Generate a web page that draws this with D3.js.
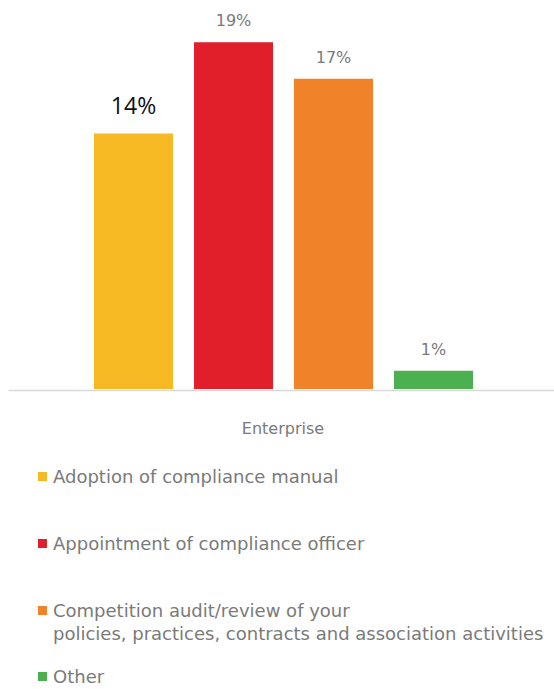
<!DOCTYPE html>
<html>
<head>
<meta charset="utf-8">
<script src="https://cdn.jsdelivr.net/npm/d3@7"></script>
<style>
  html, body { margin: 0; padding: 0; background: #fff; }
  svg { display: block; }
</style>
</head>
<body>
<svg id="chart" width="554" height="689"></svg>
<script>
// ---- data ----
const categories = ["Enterprise"];
const seriesNames = [
  "Adoption of compliance manual",
  "Appointment of compliance officer",
  "Competition audit/review of your policies, practices, contracts and association activities",
  "Other"
];
const seriesValues = [14, 19, 17, 1];
const valueLabels = ["14%", "19%", "17%", "1%"];
const legendLines = [
  ["Adoption of compliance manual"],
  ["Appointment of compliance officer"],
  ["Competition audit/review of your", "policies, practices, contracts and association activities"],
  ["Other"]
];
const colors = ["#F6B924", "#E11F2B", "#F0832A", "#4CB050"];

// ---- layout ----
const svg = d3.select("#chart");
const plot = { left: 8, right: 558, top: 24, bottom: 389 };
const textGrey = "#7a7a7a";
const font = "'Century Gothic', 'DejaVu Sans', sans-serif";

const x0 = d3.scaleBand().domain(categories).range([plot.left, plot.right]);
const y = d3.scaleLinear().domain([0, 20]).range([plot.bottom, plot.top]);

const g = svg.append("g");

categories.forEach(cat => {
  const bx = x0(cat), bw = x0.bandwidth();
  const x1 = d3.scaleBand().domain(d3.range(seriesValues.length))
    .range([bx + bw * 0.1373, bx + bw * 0.8646])
    .paddingInner(0.21).paddingOuter(0.105);

  g.selectAll("rect.bar").data(seriesValues).enter().append("rect")
    .attr("class", "bar")
    .attr("x", (d, i) => x1(i))
    .attr("width", x1.bandwidth())
    .attr("y", d => y(d))
    .attr("height", d => y(0) - y(d))
    .attr("fill", (d, i) => colors[i]);

  g.selectAll("text.val").data(seriesValues).enter().append("text")
    .attr("class", "val")
    .attr("x", (d, i) => x1(i) + x1.bandwidth() / 2)
    .attr("y", (d, i) => y(d) - (i === 0 ? 20 : 16))
    .attr("text-anchor", "middle")
    .style("font-family", (d, i) => i === 0 ? "'Open Sans', sans-serif" : font)
    .style("font-size", (d, i) => i === 0 ? "23px" : "16px")
    .attr("fill", (d, i) => i === 0 ? "#111" : textGrey)
    .text((d, i) => valueLabels[i]);

  // category label
  g.append("text")
    .attr("x", bx + bw / 2)
    .attr("y", 434)
    .attr("text-anchor", "middle")
    .style("font-family", font)
    .style("font-size", "16px")
    .attr("fill", textGrey)
    .text(cat);
});

// axis baseline
const xAxis = d3.axisBottom(x0).tickSize(0).tickFormat("");
const ax = svg.append("g").attr("transform", `translate(0,${plot.bottom + 1})`).call(xAxis);
ax.select(".domain").attr("stroke", "#d9d9d9").attr("stroke-width", 1.5);

// legend
const legendBaselines = [483, 550, 617, 683];
const lg = svg.append("g");
legendLines.forEach((lines, i) => {
  const by = legendBaselines[i];
  lg.append("rect")
    .attr("x", 38).attr("y", by - 11)
    .attr("width", 9).attr("height", 9)
    .attr("fill", colors[i]);
  const t = lg.append("text")
    .attr("x", 53).attr("y", by)
    .style("font-family", font)
    .style("font-size", "18px")
    .attr("fill", textGrey);
  lines.forEach((ln, j) => {
    t.append("tspan").attr("x", 53).attr("dy", j === 0 ? 0 : 23).text(ln);
  });
});
</script>
</body>
</html>
